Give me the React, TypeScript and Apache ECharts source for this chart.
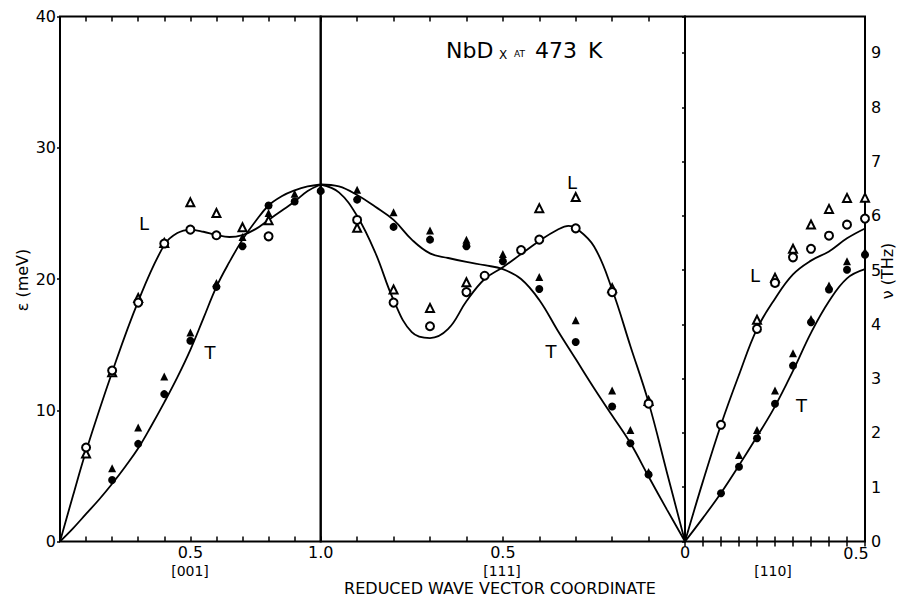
import React, { useEffect, useRef } from "react";
import * as echarts from "echarts";

const MEV_PER_THZ = 4.1357;
const E_MAX = 40;
const FONT = "DejaVu Sans";

// ---------- [001] segment (reduced q 0 -> 1) ----------
const L001CurveQ = [0, 0.05, 0.1, 0.2, 0.3, 0.4, 0.45, 0.5, 0.55, 0.6, 0.65, 0.7, 0.75, 0.8, 0.85, 0.9, 0.95, 1.0];
const L001CurveE = [0, 3.5, 6.9, 12.9, 18.3, 22.6, 23.5, 23.75, 23.6, 23.35, 23.2, 23.35, 23.8, 24.5, 25.2, 25.9, 26.7, 27.2];
const T001CurveQ = [0, 0.05, 0.1, 0.15, 0.2, 0.25, 0.3, 0.35, 0.4, 0.45, 0.5, 0.55, 0.6, 0.65, 0.7, 0.75, 0.8, 0.85, 0.9, 0.95, 1.0];
const T001CurveE = [0, 1.0, 2.1, 3.2, 4.4, 5.7, 7.1, 8.8, 10.6, 12.5, 14.6, 17.0, 19.4, 21.3, 23.0, 24.4, 25.6, 26.3, 26.75, 27.05, 27.2];

const openCircle001Q = [0.1, 0.2, 0.3, 0.4, 0.5, 0.6, 0.8];
const openCircle001E = [7.16, 13.03, 18.2, 22.7, 23.76, 23.33, 23.25];
const openTri001Q = [0.1, 0.2, 0.3, 0.4, 0.5, 0.6, 0.7, 0.8];
const openTri001E = [6.7, 12.9, 18.55, 22.75, 25.84, 25.03, 23.94, 24.47];
const fillTri001Q = [0.2, 0.3, 0.4, 0.5, 0.6, 0.7, 0.8, 0.9, 1.0];
const fillTri001E = [5.58, 8.68, 12.57, 15.93, 19.7, 23.2, 25.03, 26.5, 26.9];
const fillCircle001Q = [0.2, 0.3, 0.4, 0.5, 0.6, 0.7, 0.8, 0.9, 1.0];
const fillCircle001E = [4.69, 7.44, 11.23, 15.29, 19.4, 22.5, 25.6, 25.9, 26.7];

// ---------- [111] segment (reduced q 1 -> 0) ----------
const T111CurveQ = [1, 0.95, 0.9, 0.85, 0.8, 0.75, 0.7, 0.65, 0.6, 0.55, 0.5, 0.45, 0.4, 0.35, 0.3, 0.25, 0.2, 0.15, 0.1, 0.05, 0];
const T111CurveE = [27.2, 27.05, 26.4, 25.5, 24.5, 23.0, 21.95, 21.6, 21.3, 21.05, 20.75, 20.0, 18.4, 16.1, 13.9, 11.7, 9.6, 7.5, 4.95, 2.45, 0];
const L111CurveQ = [1, 0.95, 0.9, 0.85, 0.8, 0.75, 0.7, 0.65, 0.6, 0.55, 0.5, 0.45, 0.4, 0.35, 0.32, 0.3, 0.25, 0.2, 0.15, 0.1, 0.05, 0];
const L111CurveE = [27.2, 26.6, 24.8, 22.0, 18.4, 15.95, 15.5, 16.2, 18.3, 20.0, 20.9, 21.9, 22.9, 23.75, 24.05, 23.9, 22.5, 19.2, 14.9, 10.6, 5.3, 0];

const openCircle111Q = [0.9, 0.8, 0.7, 0.6, 0.55, 0.45, 0.4, 0.3, 0.2, 0.1];
const openCircle111E = [24.5, 18.2, 16.4, 19.0, 20.25, 22.2, 23.0, 23.86, 19.0, 10.5];
const openTri111Q = [0.9, 0.8, 0.7, 0.6, 0.4, 0.3, 0.2, 0.1];
const openTri111E = [23.9, 19.2, 17.8, 19.75, 25.4, 26.25, 19.3, 10.7];
const fillTri111Q = [0.9, 0.8, 0.7, 0.6, 0.5, 0.4, 0.3, 0.2, 0.15, 0.1];
const fillTri111E = [26.8, 25.08, 23.7, 23.0, 21.9, 20.15, 16.85, 11.5, 8.5, 5.3];
const fillCircle111Q = [0.9, 0.8, 0.7, 0.6, 0.5, 0.4, 0.3, 0.2, 0.15, 0.1];
const fillCircle111E = [26.05, 23.97, 23.0, 22.5, 21.35, 19.24, 15.2, 10.28, 7.49, 5.1];

// ---------- [110] segment (reduced q 0 -> 0.5) ----------
const L110CurveQ = [0, 0.05, 0.1, 0.15, 0.2, 0.25, 0.3, 0.35, 0.4, 0.45, 0.5];
const L110CurveE = [0, 4.6, 8.9, 12.7, 16.2, 18.5, 20.35, 21.4, 22.1, 23.1, 23.85];
const T110CurveQ = [0, 0.05, 0.1, 0.15, 0.2, 0.25, 0.3, 0.35, 0.4, 0.45, 0.5];
const T110CurveE = [0, 1.8, 3.7, 5.8, 8.0, 10.3, 13.0, 15.9, 18.3, 20.05, 20.75];

const openCircle110Q = [0.1, 0.2, 0.25, 0.3, 0.35, 0.4, 0.45, 0.5];
const openCircle110E = [8.89, 16.2, 19.7, 21.65, 22.3, 23.3, 24.14, 24.6];
const openTri110Q = [0.2, 0.25, 0.3, 0.35, 0.4, 0.45, 0.5];
const openTri110E = [16.9, 20.1, 22.3, 24.15, 25.34, 26.18, 26.2];
const fillTri110Q = [0.15, 0.2, 0.25, 0.3, 0.35, 0.4, 0.45, 0.5];
const fillTri110E = [6.6, 8.5, 11.5, 14.35, 16.95, 19.5, 21.35, 22.1];
const fillCircle110Q = [0.1, 0.15, 0.2, 0.25, 0.3, 0.35, 0.4, 0.45, 0.5];
const fillCircle110E = [3.67, 5.7, 7.87, 10.5, 13.4, 16.7, 19.2, 20.7, 21.85];

// tick labels
const meVTicks = [0, 10, 20, 30, 40];
const thzTicks = [0, 1, 2, 3, 4, 5, 6, 7, 8, 9];

const pairs = (qs: number[], es: number[]) => qs.map((q, i) => [q, es[i]]);
const near = (a: number, b: number) => Math.abs(a - b) < 1e-6;

export default function App() {
  const ref = useRef<HTMLDivElement>(null);
  useEffect(() => {
    document.body.style.margin = "0";
    if (!ref.current) return;
    const chart = echarts.init(ref.current, undefined, { renderer: "svg" });

    const top = 16.5;
    const height = 525;
    const grids = [
      { left: 60, top, width: 260.7, height },
      { left: 320.7, top, width: 364.3, height },
      { left: 685, top, width: 180, height },
    ].map((g) => ({ ...g, show: true, borderColor: "#000", borderWidth: 2, backgroundColor: "transparent" }));

    const labelStyle = { color: "#000", fontFamily: FONT, fontSize: 16 };
    const tick = { show: true, inside: true, length: 5, lineStyle: { color: "#000", width: 1.5 } };

    const xBottom = (gi: number, max: number, interval: number, inverse: boolean, fmt: (v: number) => string) => ({
      type: "value", gridIndex: gi, position: "bottom", min: 0, max, interval, inverse,
      axisLine: { show: false }, splitLine: { show: false }, axisTick: tick,
      axisLabel: { ...labelStyle, margin: 3, lineHeight: 16, showMinLabel: true, showMaxLabel: true, formatter: fmt },
    });
    const xTop = (gi: number, max: number, interval: number, inverse: boolean) => ({
      type: "value", gridIndex: gi, position: "top", min: 0, max, interval, inverse,
      axisLine: { show: false }, splitLine: { show: false }, axisTick: tick, axisLabel: { show: false },
    });

    const xAxis = [
      xBottom(0, 1, 0.1, false, (v) => (near(v, 0.5) ? "0.5" : near(v, 1) ? "1.0" : "")),
      xTop(0, 1, 0.1, false),
      xBottom(1, 1, 0.1, true, (v) => (near(v, 0.5) ? "0.5" : near(v, 0) ? "0" : "")),
      xTop(1, 1, 0.1, true),
      xBottom(2, 0.5, 0.05, false, () => ""),
      xTop(2, 0.5, 0.05, false),
    ];

    const yAxis = [
      {
        type: "value", gridIndex: 0, position: "left", min: 0, max: E_MAX, interval: 10,
        axisLine: { show: false }, splitLine: { show: false },
        axisTick: { show: true, inside: false, length: 3, lineStyle: { color: "#000", width: 1.5 } },
        axisLabel: { ...labelStyle, margin: 4, formatter: (v: number) => (meVTicks.includes(v) ? String(v) : "") },
      },
      { type: "value", gridIndex: 1, min: 0, max: E_MAX, show: false },
      { type: "value", gridIndex: 2, min: 0, max: E_MAX, show: false },
      {
        type: "value", gridIndex: 2, position: "right", min: 0, max: E_MAX / MEV_PER_THZ, interval: 1,
        axisLine: { show: false }, splitLine: { show: false },
        axisTick: { show: true, inside: true, length: 3, lineStyle: { color: "#000", width: 1.5 } },
        axisLabel: { ...labelStyle, margin: 6, formatter: (v: number) => (thzTicks.includes(v) ? String(v) : "") },
      },
    ];

    const curve = (qs: number[], es: number[], gi: number) => ({
      type: "line", xAxisIndex: gi * 2, yAxisIndex: gi, data: pairs(qs, es),
      smooth: 0.4, symbol: "none", silent: true, z: 2,
      lineStyle: { color: "#000", width: 1.8 },
    });
    const marks = (qs: number[], es: number[], gi: number, symbol: string, size: number, z: number) => ({
      type: "scatter", xAxisIndex: gi * 2, yAxisIndex: gi, data: pairs(qs, es),
      symbol, symbolSize: size, silent: true, z,
      itemStyle: { color: "#000", borderColor: "#000", opacity: 1, borderWidth: symbol.startsWith("empty") ? 1.2 : 0 },
    });

    const series = [
      curve(L001CurveQ, L001CurveE, 0),
      curve(T001CurveQ, T001CurveE, 0),
      curve(T111CurveQ, T111CurveE, 1),
      curve(L111CurveQ, L111CurveE, 1),
      curve(L110CurveQ, L110CurveE, 2),
      curve(T110CurveQ, T110CurveE, 2),
      marks(openTri001Q, openTri001E, 0, "emptyTriangle", 8, 3),
      marks(openCircle001Q, openCircle001E, 0, "emptyCircle", 8, 3),
      marks(openTri111Q, openTri111E, 1, "emptyTriangle", 8, 3),
      marks(openCircle111Q, openCircle111E, 1, "emptyCircle", 8, 3),
      marks(openTri110Q, openTri110E, 2, "emptyTriangle", 8, 3),
      marks(openCircle110Q, openCircle110E, 2, "emptyCircle", 8, 3),
      marks(fillCircle001Q, fillCircle001E, 0, "circle", 8, 4),
      marks(fillTri001Q, fillTri001E, 0, "triangle", 8, 4),
      marks(fillCircle111Q, fillCircle111E, 1, "circle", 8, 4),
      marks(fillTri111Q, fillTri111E, 1, "triangle", 8, 4),
      marks(fillCircle110Q, fillCircle110E, 2, "circle", 8, 4),
      marks(fillTri110Q, fillTri110E, 2, "triangle", 8, 4),
    ];

    const txt = (text: string, x: number, y: number, fontSize: number, align = "center", rotation = 0) => ({
      type: "text", x, y, rotation, silent: true, z: 10,
      style: { text, fill: "#000", fontFamily: FONT, fontSize, align, verticalAlign: "middle" },
    });

    const graphic = [
      txt("NbD", 446, 50.3, 22, "left"),
      txt("X", 499, 55, 12, "left"),
      txt("AT", 514, 53.7, 9, "left"),
      txt("473", 535, 50.3, 22, "left"),
      txt("K", 588, 50.3, 22, "left"),
      txt("L", 144, 223, 18),
      txt("T", 210, 352, 18),
      txt("L", 572, 182.5, 18),
      txt("T", 551, 351.5, 18),
      txt("L", 755, 275, 18),
      txt("T", 801.5, 405, 18),
      txt("0.5", 856, 553, 16),
      txt("[001]", 190, 571, 14),
      txt("[111]", 502, 571, 14),
      txt("[110]", 773, 571, 14),
      txt("REDUCED WAVE VECTOR COORDINATE", 500, 588, 16),
      txt("ε (meV)", 22, 280, 16, "center", Math.PI / 2),
      txt("ν (THz)", 887, 271, 16, "center", Math.PI / 2),
    ];

    chart.setOption({
      animation: false,
      backgroundColor: "#fff",
      grid: grids,
      xAxis,
      yAxis,
      series,
      graphic,
    } as any);
    return () => chart.dispose();
  }, []);
  return <div ref={ref} style={{ width: 897, height: 596 }} />;
}
